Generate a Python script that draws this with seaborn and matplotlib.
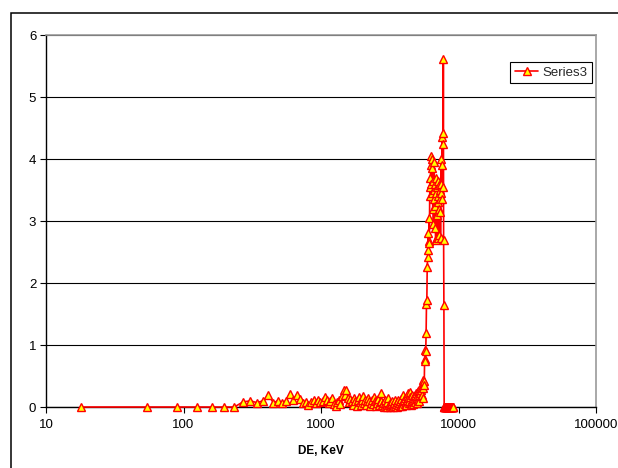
import matplotlib
matplotlib.use("Agg")
import matplotlib.pyplot as plt
import numpy as np
import pandas as pd
import seaborn as sns
from matplotlib.patches import Rectangle
from matplotlib.ticker import FixedLocator, NullLocator

# Energy deposit (keV) and Series3 values
energy_kev = [
    18, 54, 90, 126, 162, 198, 234, 270, 306, 342,
    378, 414, 450, 486, 522, 558, 594, 630, 666, 702,
    738, 774, 810, 846, 882, 918, 954, 990, 1026, 1062,
    1098, 1134, 1170, 1206, 1242, 1278, 1314, 1350, 1386, 1422,
    1458, 1494, 1530, 1566, 1602, 1638, 1674, 1710, 1746, 1782,
    1818, 1854, 1890, 1926, 1962, 1998, 2034, 2070, 2106, 2142,
    2178, 2214, 2250, 2286, 2322, 2358, 2394, 2430, 2466, 2502,
    2538, 2574, 2610, 2646, 2682, 2718, 2754, 2790, 2826, 2862,
    2898, 2934, 2970, 3006, 3042, 3078, 3114, 3150, 3186, 3222,
    3258, 3294, 3330, 3366, 3402, 3438, 3474, 3510, 3546, 3582,
    3618, 3654, 3690, 3726, 3762, 3798, 3834, 3870, 3906, 3942,
    3978, 4014, 4050, 4086, 4122, 4158, 4194, 4230, 4266, 4302,
    4338, 4374, 4410, 4446, 4482, 4518, 4554, 4590, 4626, 4662,
    4698, 4734, 4770, 4806, 4842, 4878, 4914, 4950, 4986, 5022,
    5058, 5094, 5130, 5166, 5202, 5238, 5274, 5310, 5346, 5382,
    5418, 5454, 5490, 5526, 5562, 5598, 5634, 5670, 5706, 5742,
    5778, 5814, 5850, 5886, 5922, 5958, 5994, 6030, 6066, 6102,
    6138, 6174, 6210, 6246, 6282, 6318, 6354, 6390, 6426, 6462,
    6498, 6534, 6570, 6606, 6642, 6678, 6714, 6750, 6786, 6822,
    6858, 6894, 6930, 6966, 7002, 7038, 7074, 7110, 7146, 7182,
    7218, 7254, 7290, 7326, 7362, 7398, 7434, 7470, 7506, 7542,
    7578, 7614, 7650, 7686, 7722, 7758, 7794, 7830, 7866, 7902,
    7938, 7974, 8010, 8046, 8082, 8118, 8154, 8190, 8226, 8262,
    8298, 8334, 8370, 8406, 8442, 8478, 8514, 8550, 8586, 8622,
    8658, 8694, 8730, 8766, 8802, 8838, 8874, 8910, 8946, 8982,
    9018, 9054, 9090, 9126,
]

series3 = [
    0, 0, 0, 0, 0, 0, 0, 0.08, 0.10, 0.07,
    0.10, 0.19, 0.07, 0.10, 0.07, 0.10, 0.21, 0.12, 0.19, 0.13,
    0.06, 0.08, 0.04, 0.08, 0.11, 0.07, 0.12, 0.08, 0.10, 0.16,
    0.11, 0.06, 0.09, 0.14, 0.05, 0.02, 0.08, 0.12, 0.05, 0.18,
    0.27, 0.20, 0.27, 0.15, 0.08, 0.13, 0.10, 0.04, 0.15, 0.09,
    0.02, 0.12, 0.16, 0.08, 0.03, 0.11, 0.17, 0.06, 0.12, 0.04,
    0.09, 0.15, 0.10, 0.02, 0.07, 0.12, 0.05, 0.16, 0.09, 0.01,
    0.11, 0.06, 0.13, 0.03, 0.08, 0.22, 0.10, 0.04, 0.07, 0.00,
    0.06, 0.12, 0.02, 0.00, 0.08, 0.14, 0.03, 0.06, 0.00, 0.05,
    0.10, 0.01, 0.04, 0.00, 0.07, 0.02, 0.11, 0.05, 0.00, 0.08,
    0.03, 0.12, 0.06, 0.01, 0.09, 0.04, 0.13, 0.07, 0.02, 0.10,
    0.20, 0.12, 0.05, 0.15, 0.08, 0.03, 0.18, 0.11, 0.22, 0.14,
    0.06, 0.10, 0.24, 0.16, 0.08, 0.03, 0.12, 0.19, 0.09, 0.14,
    0.05, 0.17, 0.11, 0.20, 0.08, 0.13, 0.22, 0.15, 0.06, 0.18,
    0.26, 0.12, 0.20, 0.28, 0.10, 0.22, 0.30, 0.18, 0.27, 0.33,
    0.19, 0.32, 0.43, 0.15, 0.30, 0.42, 0.35, 0.78, 0.74, 0.92,
    0.90, 1.20, 1.66, 1.73, 2.26, 2.42, 2.53, 2.80, 2.67, 3.05,
    2.65, 3.40, 3.70, 3.55, 3.90, 4.05, 3.60, 3.85, 3.45, 4.00,
    3.20, 3.65, 2.95, 3.50, 3.95, 3.35, 2.88, 3.60, 3.25, 2.70,
    3.45, 3.70, 3.10, 2.75, 3.55, 3.30, 3.65, 2.72, 3.40, 3.20,
    3.58, 2.78, 3.35, 3.15, 3.50, 2.73, 3.45, 3.60, 4.00, 3.35,
    4.35, 3.90, 4.42, 4.25, 3.55, 5.62, 2.70, 1.65, 0, 0,
    0, 0, 0, 0, 0, 0, 0, 0, 0, 0,
    0, 0, 0, 0, 0, 0, 0, 0, 0, 0,
    0, 0, 0, 0, 0, 0, 0, 0, 0, 0,
    0, 0, 0, 0,
]

x_ticks = [10, 100, 1000, 10000, 100000]
x_tick_labels = ["10", "100", "1000", "10000", "100000"]
y_ticks = [0, 1, 2, 3, 4, 5, 6]
y_tick_labels = ["0", "1", "2", "3", "4", "5", "6"]

df = pd.DataFrame({"DE, KeV": energy_kev, "Series3": series3})

sns.set_style("white")
plt.rcParams["font.family"] = ["Liberation Sans", "DejaVu Sans"]

W, H = 618, 468
fig = plt.figure(figsize=(W / 100, H / 100), dpi=100)
fig.patch.set_facecolor("white")
ax = fig.add_axes([46 / W, 61 / H, 550 / W, 372 / H])

# chart-area frame (continues past the right and bottom edges)
fig.add_artist(Rectangle((11 / W, -0.1), 1.2, 1 - 13 / H + 0.1,
                         transform=fig.transFigure, fill=False,
                         edgecolor="black", linewidth=1.1))

sns.lineplot(data=df, x="DE, KeV", y="Series3", ax=ax, estimator=None, sort=False,
             color="#FF0000", linewidth=1.2, marker="^", markersize=5.2,
             markerfacecolor="#FFFF00", markeredgecolor="#FF0000",
             markeredgewidth=1.0, label="Series3", clip_on=False, zorder=3)

ax.set_xscale("log")
ax.set_xlim(10, 100000)
ax.set_ylim(0, 6)
ax.xaxis.set_major_locator(FixedLocator(x_ticks))
ax.xaxis.set_minor_locator(NullLocator())
ax.set_xticklabels(x_tick_labels)
ax.yaxis.set_major_locator(FixedLocator(y_ticks))
ax.set_yticklabels(y_tick_labels)

ax.yaxis.grid(True, color="black", linewidth=0.8)
ax.xaxis.grid(False)
ax.set_axisbelow(True)

for side in ("left", "bottom"):
    ax.spines[side].set_color("black")
    ax.spines[side].set_linewidth(1.0)
for side in ("top", "right"):
    ax.spines[side].set_color("#9a9a9a")
    ax.spines[side].set_linewidth(1.2)

ax.tick_params(axis="both", which="major", direction="out", length=4, width=0.8,
               color="black", labelcolor="black", labelsize=9.5,
               bottom=True, left=True, pad=3)
ax.tick_params(axis="x", pad=5)

ax.set_xlabel("DE, KeV", fontsize=8.5, fontweight="bold", color="black", labelpad=10)
ax.set_ylabel("")

leg = ax.legend(loc="upper right", bbox_to_anchor=(0.9927, 0.9274),
                frameon=True, fancybox=False, edgecolor="black", framealpha=1,
                fontsize=9.5, handlelength=1.8, borderpad=0.35,
                handletextpad=0.3, borderaxespad=0)
leg.get_frame().set_linewidth(0.8)

fig.savefig("out.png", dpi=100, facecolor="white")
